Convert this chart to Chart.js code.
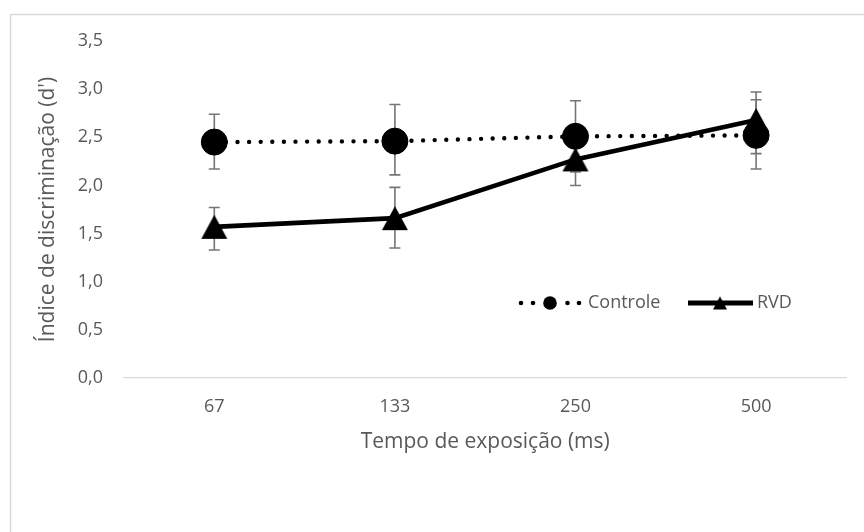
<!DOCTYPE html>
<html><head><meta charset="utf-8">
<script src="https://cdn.jsdelivr.net/npm/chart.js@4/dist/chart.umd.min.js"></script>
<style>html,body{margin:0;padding:0;background:#fff;}#wrap{position:relative;width:864px;height:532px;}</style>
</head><body><div id="wrap"><canvas id="c" width="864" height="532"></canvas></div>
<script>
const categories = ['67', '133', '250', '500'];
const controleMean = [2.45, 2.46, 2.51, 2.52];
const controleLow  = [2.17, 2.11, 2.14, 2.17];
const controleHigh = [2.74, 2.84, 2.88, 2.89];
const rvdMean = [1.57, 1.66, 2.27, 2.68];
const rvdLow  = [1.33, 1.35, 2.00, 2.33];
const rvdHigh = [1.77, 1.98, 2.53, 2.97];
const yMin = 0, yMax = 3.5, yStep = 0.5;
const seriesNames = ['Controle', 'RVD'];
const xTitle = 'Tempo de exposição (ms)';
const yTitle = 'Índice de discriminação (d\')';

const FONT = "'Open Sans', sans-serif";
const TEXT = '#595959';

function makeTri(w, h) {
  const c = document.createElement('canvas');
  c.width = w + 2; c.height = h + 2;
  const x = c.getContext('2d');
  x.fillStyle = '#000';
  x.beginPath();
  x.moveTo(1 + w / 2, 1);
  x.lineTo(1 + w, 1 + h);
  x.lineTo(1, 1 + h);
  x.closePath();
  x.fill();
  return c;
}
const triBig = makeTri(26, 24);
const triSmall = makeTri(14, 13);

const frame = {
  id: 'frame',
  beforeDraw(chart) {
    const ctx = chart.ctx;
    ctx.save();
    ctx.strokeStyle = '#d9d9d9';
    ctx.lineWidth = 1.5;
    ctx.strokeRect(10.5, 14.5, 1000, 1000);
    ctx.restore();
  }
};

const errorBars = {
  id: 'errorBars',
  beforeDatasetsDraw(chart) {
    const ctx = chart.ctx;
    const xs = chart.scales.x, ys = chart.scales.y;
    const sets = [[controleLow, controleHigh], [rvdLow, rvdHigh]];
    ctx.save();
    ctx.strokeStyle = '#767676';
    ctx.lineWidth = 1.6;
    sets.forEach(([lo, hi]) => {
      lo.forEach((l, i) => {
        const x = xs.getPixelForValue(i);
        const y1 = ys.getPixelForValue(l), y2 = ys.getPixelForValue(hi[i]);
        ctx.beginPath();
        ctx.moveTo(x, y1); ctx.lineTo(x, y2);
        ctx.moveTo(x - 5.5, y1); ctx.lineTo(x + 5.5, y1);
        ctx.moveTo(x - 5.5, y2); ctx.lineTo(x + 5.5, y2);
        ctx.stroke();
      });
    });
    ctx.restore();
  }
};

const legendIn = {
  id: 'legendIn',
  afterDraw(chart) {
    const ctx = chart.ctx;
    const y = 303;
    ctx.save();
    ctx.fillStyle = '#000';
    [521, 533, 567.5, 579].forEach(x => { ctx.beginPath(); ctx.arc(x, y, 2.3, 0, Math.PI * 2); ctx.fill(); });
    ctx.beginPath(); ctx.arc(550, y, 6.8, 0, Math.PI * 2); ctx.fill();
    ctx.font = '18px ' + FONT;
    ctx.fillStyle = TEXT;
    ctx.textBaseline = 'middle';
    ctx.textAlign = 'left';
    ctx.fillText(seriesNames[0], 588, y);
    ctx.strokeStyle = '#000';
    ctx.lineWidth = 5;
    ctx.beginPath(); ctx.moveTo(688, y); ctx.lineTo(753, y); ctx.stroke();
    ctx.drawImage(triSmall, 720 - triSmall.width / 2, y - triSmall.height / 2);
    ctx.fillStyle = TEXT;
    ctx.fillText(seriesNames[1], 757, y);
    ctx.restore();
  }
};

new Chart(document.getElementById('c'), {
  type: 'line',
  data: {
    labels: categories,
    datasets: [
      {
        label: seriesNames[0],
        data: controleMean,
        borderColor: '#000',
        borderWidth: 4.4,
        borderDash: [0, 11.6],
        borderCapStyle: 'round',
        pointStyle: 'circle',
        pointRadius: 13,
        pointBorderWidth: 1,
        pointBackgroundColor: '#000',
        pointBorderColor: '#000',
        tension: 0
      },
      {
        label: seriesNames[1],
        data: rvdMean,
        borderColor: '#000',
        borderWidth: 4.6,
        pointStyle: triBig,
        pointRadius: 13,
        tension: 0
      }
    ]
  },
  options: {
    responsive: false,
    animation: false,
    devicePixelRatio: 1,
    layout: { padding: { left: 0, top: 41, right: 16, bottom: 0 } },
    plugins: { legend: { display: false }, tooltip: { enabled: false } },
    scales: {
      x: {
        offset: true,
        grid: { display: false, drawTicks: false },
        border: { display: true, color: '#d9d9d9', width: 1.3 },
        ticks: { color: TEXT, font: { family: FONT, size: 18 }, padding: 18 },
        title: { display: true, text: xTitle, color: TEXT, font: { family: FONT, size: 21 }, padding: { top: 0, bottom: 77 } },
        afterFit(s) { s.height = 532 - 378; }
      },
      y: {
        min: yMin, max: yMax,
        grid: { display: false, drawTicks: false },
        border: { display: false },
        ticks: {
          stepSize: yStep, color: TEXT, font: { family: FONT, size: 18 }, padding: 21,
          callback: v => v.toFixed(1).replace('.', ',')
        },
        title: { display: true, text: yTitle, color: TEXT, font: { family: FONT, size: 21 }, padding: { top: 35, bottom: 0 } },
        afterFit(s) { s.width = 124; }
      }
    }
  },
  plugins: [frame, errorBars, legendIn]
});
</script></body></html>
